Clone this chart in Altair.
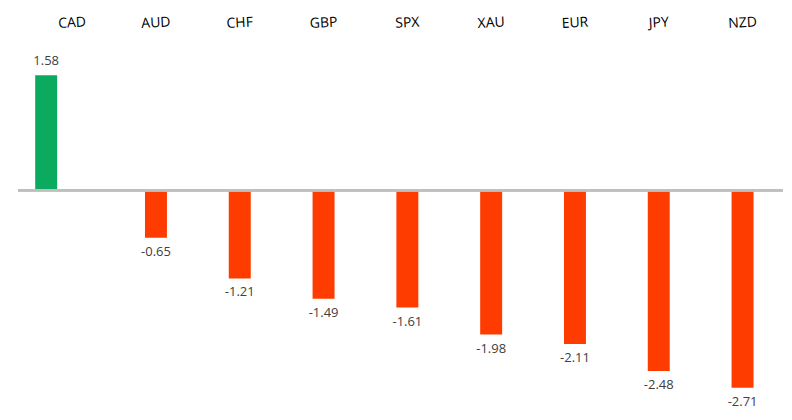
import altair as alt
import pandas as pd

categories = ["CAD", "AUD", "CHF", "GBP", "SPX", "XAU", "EUR", "JPY", "NZD"]
values = [1.58, -0.65, -1.21, -1.49, -1.61, -1.98, -2.11, -2.48, -2.71]

df = pd.DataFrame({"cat": categories, "val": values, "idx": list(range(len(categories)))})

x_scale = alt.Scale(domain=[-0.706, 8.423], nice=False, zero=False)
y_scale = alt.Scale(domain=[-3.04, 2.50], nice=False, zero=False)

base = alt.Chart(df).transform_calculate(
    bx="datum.val > 0 ? datum.idx - 0.31 : datum.idx",
    zero="0",
    lbl="(datum.val < 0 ? '-' : '') + format(abs(datum.val), '.2f')",
)

bx = alt.X("bx:Q", axis=None, scale=x_scale)
cx = alt.X("idx:Q", axis=None, scale=x_scale)
y = alt.Y("val:Q", axis=None, scale=y_scale)

bars = base.mark_bar(size=22).encode(
    x=bx, y=y, y2="zero:Q",
    color=alt.condition("datum.val > 0", alt.value("#0BAA5F"), alt.value("#FF3C00")),
)

zero_line = base.mark_rule(color="#BFBFBF", strokeWidth=2).encode(
    y=alt.Y("zero:Q", scale=y_scale, axis=None), x=alt.value(10), x2=alt.value(776))

cat_labels = base.mark_text(font="Open Sans", fontSize=14, color="#000000",
                            angle=357, baseline="middle").encode(
    x=cx, y=alt.value(15), text="cat:N")

pos_text = base.transform_filter("datum.val > 0").mark_text(
    font="Open Sans", fontSize=13, color="#404040", baseline="bottom",
    dy=-7).encode(x=bx, y=y, text="lbl:N")
neg_text = base.transform_filter("datum.val < 0").mark_text(
    font="Open Sans", fontSize=13, color="#404040", baseline="top",
    dy=8).encode(x=bx, y=y, text="lbl:N")

chart = alt.layer(bars, zero_line, cat_labels, pos_text, neg_text).properties(
    width=776, height=404,
    padding={"left": 0, "right": 0, "top": 0, "bottom": 0},
).configure_view(strokeWidth=0)

chart.save("out.html", embed_options={"renderer": "svg", "actions": False})
